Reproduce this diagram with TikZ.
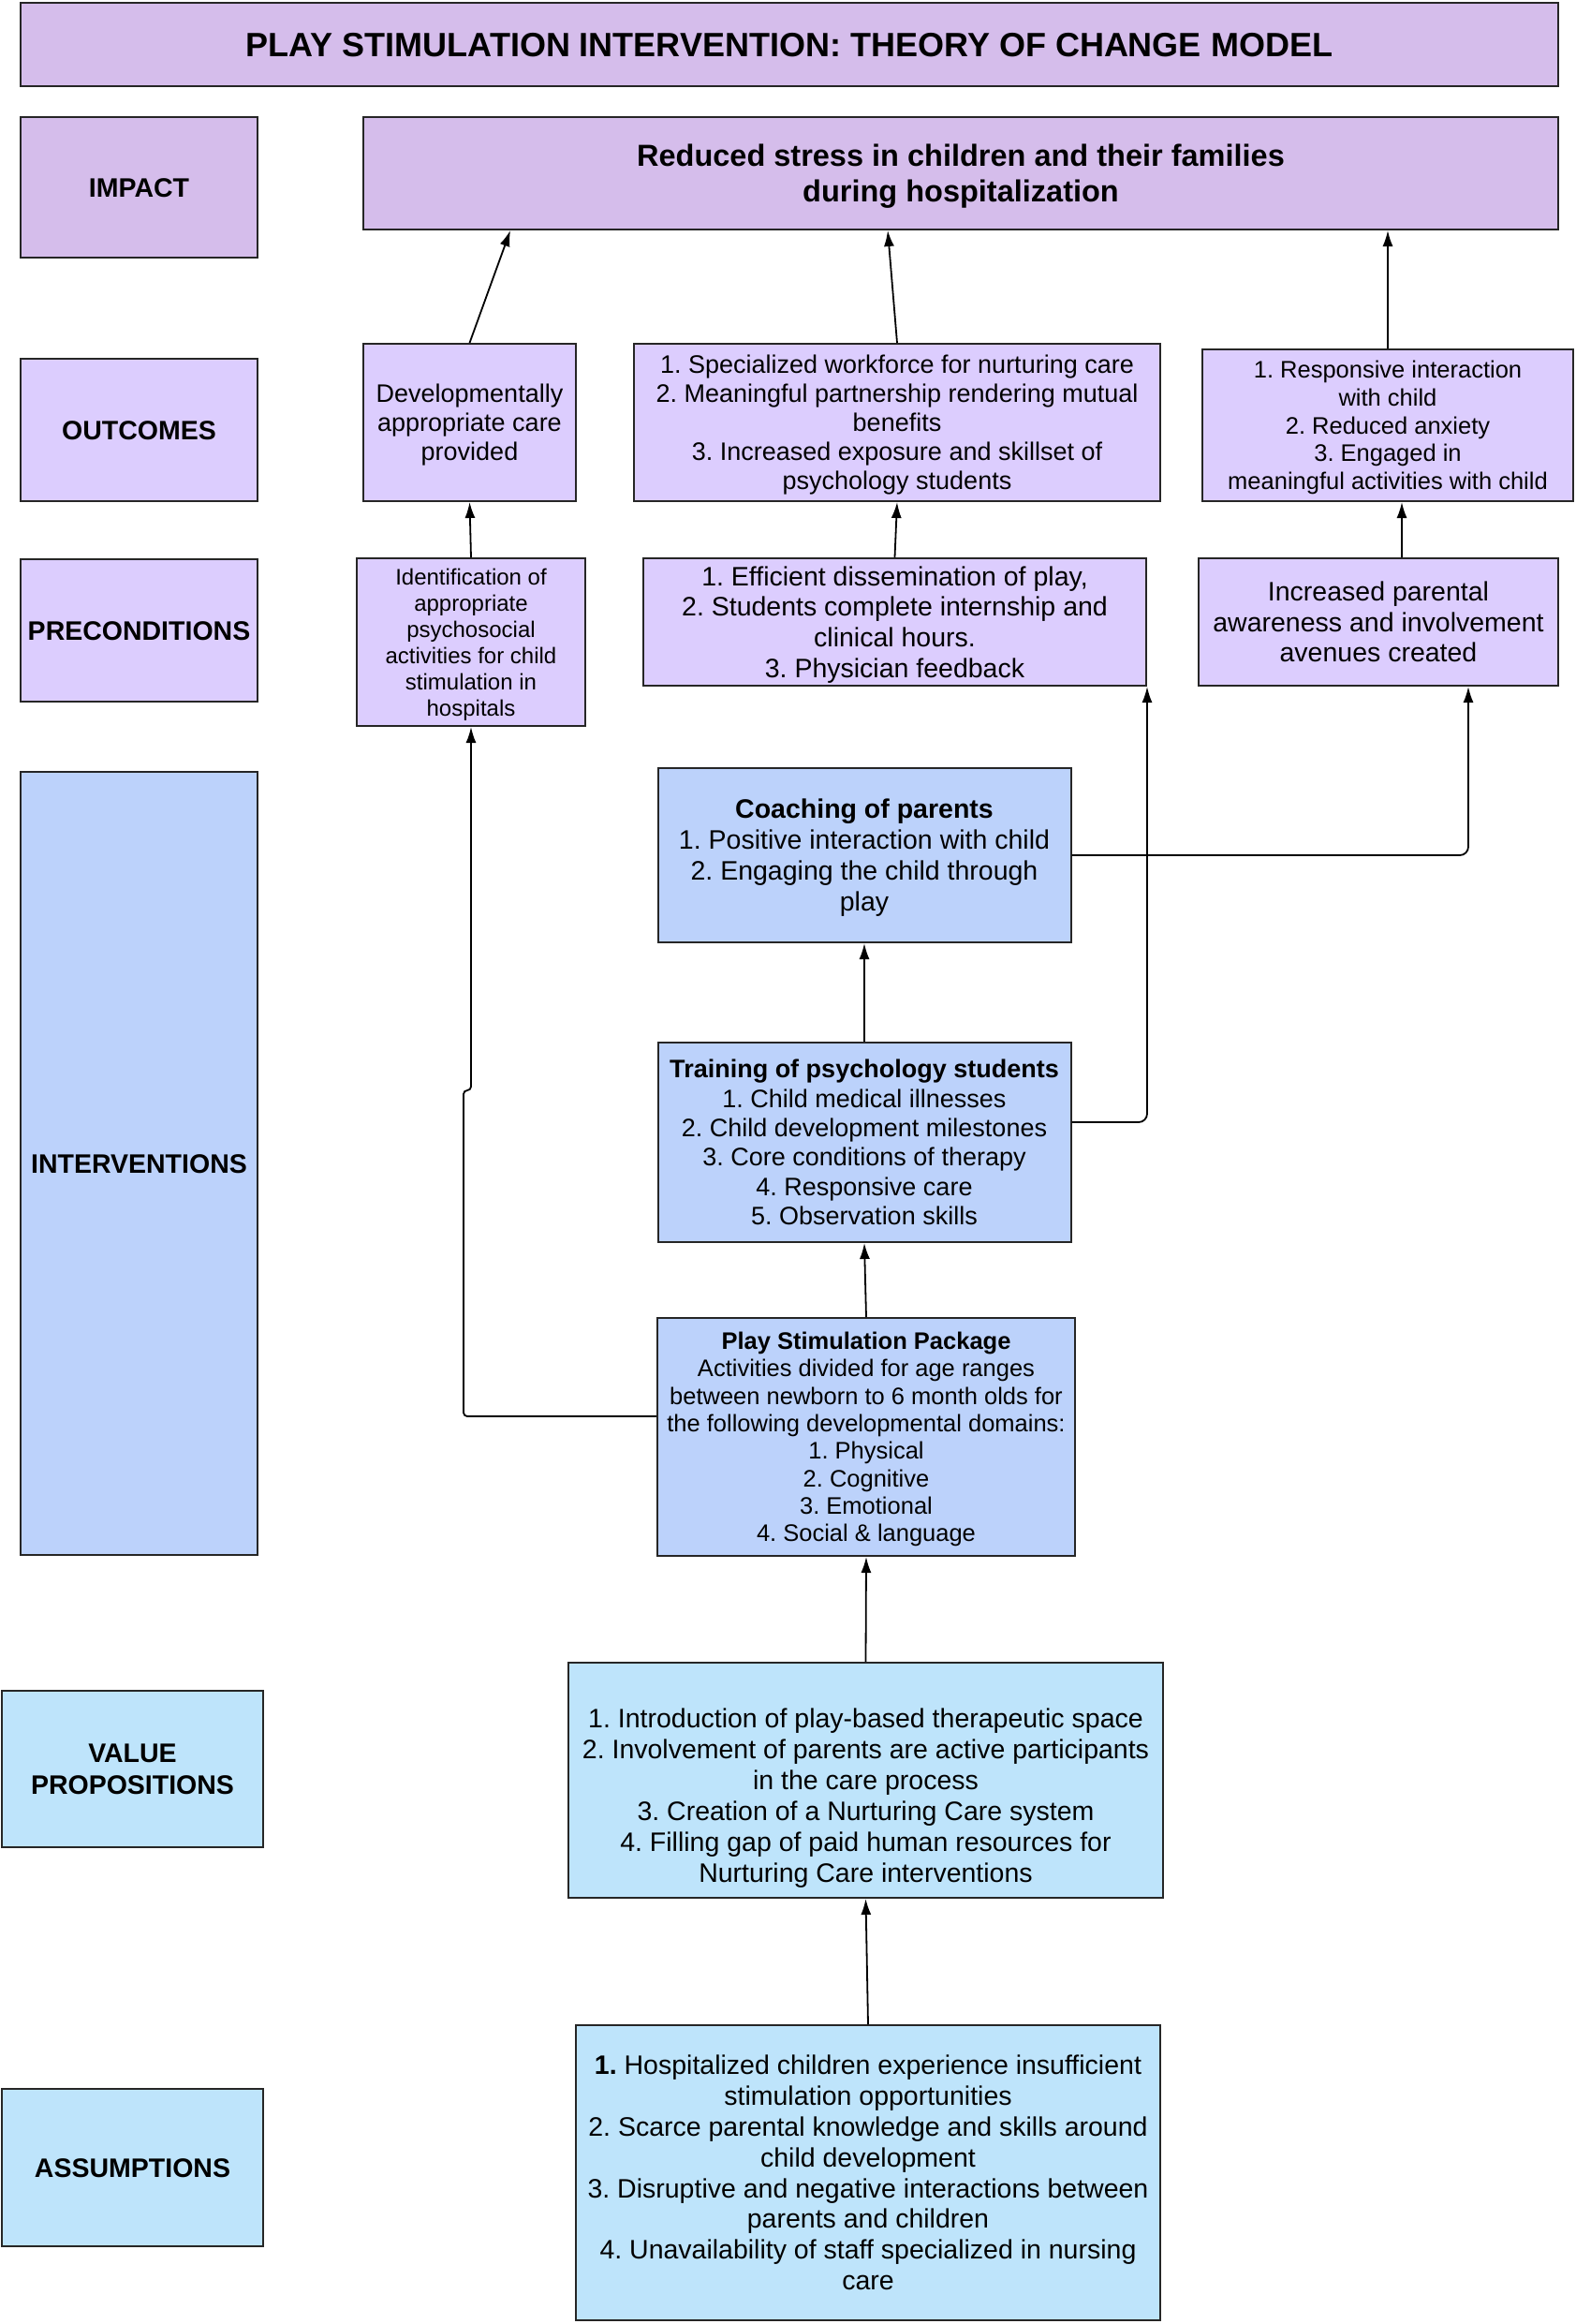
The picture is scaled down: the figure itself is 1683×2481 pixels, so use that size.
\documentclass[tikz,border=0pt]{standalone}
\usepackage{fontspec}
\setmainfont{Liberation Sans}
\usetikzlibrary{arrows.meta,calc}
\frenchspacing
\newcommand\myfs[2]{\fontsize{#1}{#2}\selectfont}
\newcommand\mys{\rule[-0.22em]{0pt}{1.15em}}
\definecolor{cimp}{HTML}{D5BDEB}
\definecolor{cout}{HTML}{DCCDFE}
\definecolor{cint}{HTML}{BCD2FB}
\definecolor{cval}{HTML}{BEE4FB}
\begin{document}
\begin{tikzpicture}[x=1pt,y=-1pt,
  box/.style={draw=black!85, line width=2pt, inner sep=0pt, align=center},
  lab/.style={box, font=\bfseries\myfs{28.5}{34}},
  arr/.style={-{Latex[length=17pt,width=11pt]}, line width=1.8pt, draw=black}]
\useasboundingbox (0,0) rectangle (1683,2481);

% title
\node[box, fill=cimp, minimum width=1642pt, minimum height=89pt, font=\bfseries\myfs{36}{42}] (title) at (843,47.5) {\mys PLAY STIMULATION INTERVENTION: THEORY OF CHANGE MODEL\mys};

% row labels
\node[lab, fill=cimp, minimum width=253pt, minimum height=150pt] (impL) at (148.5,200) {\mys IMPACT\mys};
\node[lab, fill=cout, minimum width=253pt, minimum height=152pt] (outL) at (148.5,459) {\mys OUTCOMES\mys};
\node[lab, fill=cout, minimum width=253pt, minimum height=152pt] (preL) at (148.5,673) {\mys PRECONDITIONS\mys};
\node[lab, fill=cint, minimum width=253pt, minimum height=836pt] (intL) at (148.5,1242) {\mys INTERVENTIONS\mys};
\node[lab, fill=cval, minimum width=279pt, minimum height=167pt] (vpL) at (141.5,1888.5) {\mys VALUE\\PROPOSITIONS\mys};
\node[lab, fill=cval, minimum width=279pt, minimum height=168pt] (asL) at (141.5,2314) {\mys ASSUMPTIONS\mys};

% impact
\node[box, fill=cimp, minimum width=1276pt, minimum height=120pt, font=\bfseries\myfs{32.5}{38}] (impact) at (1026,185) {\mys Reduced stress in children and their families\\during hospitalization\mys};

% outcomes
\node[box, fill=cout, minimum width=227pt, minimum height=168pt, font=\myfs{27}{31}] (out1) at (501.5,451) {\mys Developmentally\\appropriate care\\provided\mys};
\node[box, fill=cout, minimum width=562pt, minimum height=168pt, font=\myfs{27}{31}] (out2) at (958,451) {\mys 1. Specialized workforce for nurturing care\\2. Meaningful partnership rendering mutual\\benefits\\3. Increased exposure and skillset of\\psychology students\mys};
\node[box, fill=cout, minimum width=396pt, minimum height=162pt, font=\myfs{25.5}{29.7}] (out3) at (1482,454) {\mys 1. Responsive interaction\\with child\\2. Reduced anxiety\\3. Engaged in\\meaningful activities with child\mys};

% preconditions
\node[box, fill=cout, minimum width=244pt, minimum height=179pt, font=\myfs{24}{28}] (pre1) at (503,685.5) {\mys Identification of\\appropriate\\psychosocial\\activities for child\\stimulation in\\hospitals\mys};
\node[box, fill=cout, minimum width=537pt, minimum height=136pt, font=\myfs{28.5}{32.7}] (pre2) at (955.5,664) {\mys 1. Efficient dissemination of play,\\2. Students complete internship and\\clinical hours.\\3. Physician feedback\mys};
\node[box, fill=cout, minimum width=384pt, minimum height=136pt, font=\myfs{28.5}{32.7}] (pre3) at (1472,664) {\mys Increased parental\\awareness and involvement\\avenues created\mys};

% interventions
\node[box, fill=cint, minimum width=441pt, minimum height=186pt, font=\myfs{28.5}{33}] (coach) at (923,913) {\mys\textbf{Coaching of parents}\\1. Positive interaction with child\\2. Engaging the child through\\play\mys};
\node[box, fill=cint, minimum width=441pt, minimum height=213pt, font=\myfs{27}{31.4}] (train) at (923,1219.5) {\mys\textbf{Training of psychology students}\\1. Child medical illnesses\\2. Child development milestones\\3. Core conditions of therapy\\4. Responsive care\\5. Observation skills\mys};
\node[box, fill=cint, minimum width=446pt, minimum height=254pt, font=\myfs{25.5}{29.3}] (play) at (925,1534) {\mys\textbf{Play Stimulation Package}\\Activities divided for age ranges\\between newborn to 6 month olds for\\the following developmental domains:\\1. Physical\\2. Cognitive\\3. Emotional\\4. Social \& language\mys};

% value propositions
\node[box, fill=cval, minimum width=635pt, minimum height=251pt, font=\myfs{28.5}{33}] (vp) at (924.5,1900.5) {\mys\\1. Introduction of play-based therapeutic space\\2. Involvement of parents are active participants\\in the care process\\3. Creation of a Nurturing Care system\\4. Filling gap of paid human resources for\\Nurturing Care interventions\mys};

% assumptions
\node[box, fill=cval, minimum width=624pt, minimum height=315pt, font=\myfs{28.5}{32.8}] (as) at (927,2319.5) {\mys\textbf{1.} Hospitalized children experience insufficient\\stimulation opportunities\\2. Scarce parental knowledge and skills around\\child development\\3. Disruptive and negative interactions between\\parents and children\\4. Unavailability of staff specialized in nursing\\care\mys};

% connectors
\draw[arr] (out1.north) -- ([xshift=158pt]impact.south west);
\draw[arr] (out2.north) -- ([xshift=561pt]impact.south west);
\draw[arr] (out3.north) -- (impact.south -| out3.north);
\draw[arr] (pre1.north) -- (out1.south);
\draw[arr] (pre2.north) -- (out2.south);
\draw[arr] ([xshift=218pt]pre3.north west) -- ([xshift=214pt]out3.south west);
\draw[arr] (train.north) -- (coach.south);
\draw[arr, rounded corners=9pt] ([yshift=21.5pt]train.east) -| (pre2.south east);
\draw[arr, rounded corners=9pt] (coach.east) -| ([xshift=289pt]pre3.south west);
\coordinate (jog) at (495,1164);
\draw[arr, rounded corners=4pt] ([yshift=22pt]play.west) -| (jog) -| (pre1.south);
\draw[arr] (play.north) -- (train.south);
\draw[arr] (vp.north) -- (play.south);
\draw[arr] (as.north) -- (vp.south);
\end{tikzpicture}
\end{document}
